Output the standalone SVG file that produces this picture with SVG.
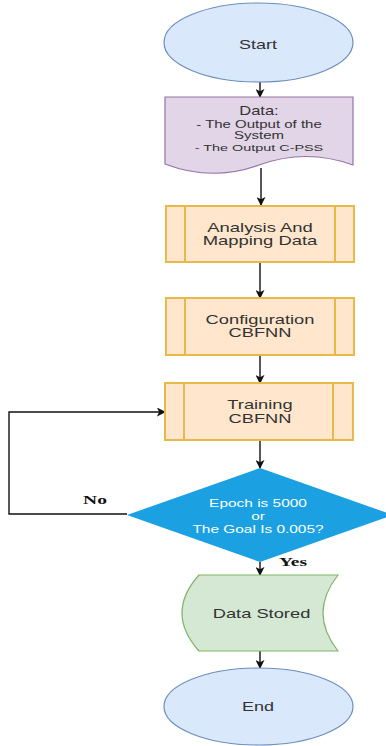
<svg xmlns="http://www.w3.org/2000/svg" width="386" height="746" viewBox="0 0 386 746">
<defs>
<marker id="arr" viewBox="0 0 10 10" refX="9" refY="5" markerWidth="9" markerHeight="9" markerUnits="userSpaceOnUse" orient="auto">
<path d="M0,0 L10,5 L0,10 L2.5,5 Z" fill="#111"/>
</marker>
</defs>
<style>
.lbl{font-family:"Liberation Sans",Arial,sans-serif;fill:#333;text-anchor:middle}
.wl{font-family:"Liberation Sans",Arial,sans-serif;fill:#fff;text-anchor:middle;font-size:10.3px}
.bl{font-family:"Liberation Serif","Times New Roman",serif;font-weight:bold;font-size:13px;fill:#111;text-anchor:middle}
.term{fill:#dae8fc;stroke:#6c8ebf;stroke-width:1.2}
.proc{fill:#ffe6cc;stroke:#e6b94a;stroke-width:2}
.conn{fill:none;stroke:#111;stroke-width:1.4}
</style>
<rect width="386" height="746" fill="#fff"/>
<g id="connectors">
<line class="conn" x1="260" y1="82" x2="260" y2="97" marker-end="url(#arr)"/>
<line class="conn" x1="261" y1="168" x2="261" y2="205" marker-end="url(#arr)"/>
<line class="conn" x1="260" y1="262" x2="260" y2="298" marker-end="url(#arr)"/>
<line class="conn" x1="260" y1="355" x2="260" y2="383" marker-end="url(#arr)"/>
<line class="conn" x1="260" y1="440" x2="260" y2="468" marker-end="url(#arr)"/>
<line class="conn" x1="260" y1="562" x2="260" y2="575" marker-end="url(#arr)"/>
<line class="conn" x1="260" y1="651" x2="260" y2="668" marker-end="url(#arr)"/>
<polyline class="conn" points="127,514 9,514 9,412 165,412" marker-end="url(#arr)"/>
<text class="bl" transform="translate(95 0) scale(1.5 1)" x="0" y="504">No</text>
<text class="bl" transform="translate(293 0) scale(1.5 1)" x="0" y="566.5">Yes</text>
</g>
<g id="start">
<ellipse class="term" cx="258.5" cy="42.5" rx="94.5" ry="39.5"/>
<text class="lbl" font-size="12" transform="translate(258 0) scale(1.5 1)" x="0" y="49.3">Start</text>
</g>
<g id="data">
<path d="M165,97 H353 V165 Q306,148 259,165 Q212,182 165,164 Z" fill="#e1d5e7" stroke="#9673a6" stroke-width="1.2"/>
<g transform="translate(259 0) scale(1.5 1)">
<text class="lbl" font-size="12.5" x="0" y="115" transform="scale(0.88 1)">Data:</text>
<text class="lbl" font-size="10" x="0" y="127.5">- The Output of the</text>
<text class="lbl" font-size="10" x="0" y="139.5">System</text>
<text class="lbl" font-size="9.6" x="0" y="151.5">- The Output C-PSS</text>
</g>
</g>
<g id="analysis">
<rect class="proc" x="166" y="206" width="188" height="56"/>
<line class="proc" x1="185" y1="206" x2="185" y2="262"/>
<line class="proc" x1="335" y1="206" x2="335" y2="262"/>
<g transform="translate(260 0) scale(1.5 1)">
<text class="lbl" font-size="12.3" x="0" y="232">Analysis And</text>
<text class="lbl" font-size="12.3" x="0" y="245">Mapping Data</text>
</g>
</g>
<g id="configuration">
<rect class="proc" x="166" y="298" width="188" height="57"/>
<line class="proc" x1="185" y1="298" x2="185" y2="355"/>
<line class="proc" x1="335" y1="298" x2="335" y2="355"/>
<g transform="translate(260 0) scale(1.5 1)">
<text class="lbl" font-size="12.2" x="0" y="324">Configuration</text>
<text class="lbl" font-size="12.2" x="0" y="337.5">CBFNN</text>
</g>
</g>
<g id="training">
<rect class="proc" x="165" y="383" width="188" height="57"/>
<line class="proc" x1="184" y1="383" x2="184" y2="440"/>
<line class="proc" x1="333" y1="383" x2="333" y2="440"/>
<g transform="translate(260 0) scale(1.5 1)">
<text class="lbl" font-size="12.2" x="0" y="409.5">Training</text>
<text class="lbl" font-size="12.2" x="0" y="423">CBFNN</text>
</g>
</g>
<g id="decision">
<polygon points="260,468 393,515 260,562 127,515" fill="#1ba1e2"/>
<g transform="translate(258 0) scale(1.5 1)">
<text class="wl" x="0" y="507">Epoch is 5000</text>
<text class="wl" x="0" y="520">or</text>
<text class="wl" x="0" y="533">The Goal Is 0.005?</text>
</g>
</g>
<g id="stored">
<path d="M199,575 H338 Q308,613 338,651 H199 Q165,613 199,575 Z" fill="#d5e8d4" stroke="#82b366" stroke-width="1.2"/>
<text class="lbl" font-size="12.2" transform="translate(261.5 0) scale(1.5 1)" x="0" y="618">Data Stored</text>
</g>
<g id="end">
<ellipse class="term" cx="258.5" cy="706.5" rx="94.5" ry="38.5"/>
<text class="lbl" font-size="12" transform="translate(258 0) scale(1.5 1)" x="0" y="711.5">End</text>
</g>
</svg>
